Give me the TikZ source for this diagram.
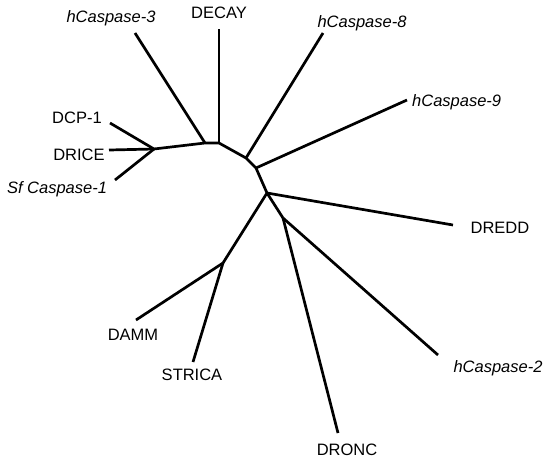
\documentclass[tikz,border=0pt]{standalone}
\usepackage{fontspec}
\setmainfont{Liberation Sans}
\begin{document}
\begin{tikzpicture}[x=1pt,y=-1pt,
  branch/.style={line width=2.7pt,line join=round},
  lab/.style={font=\fontsize{16.5}{18}\selectfont,inner sep=0pt},
  ilab/.style={lab,font=\fontsize{16.5}{18}\selectfont\itshape}]
\useasboundingbox (0,0) rectangle (550,459);
% internal nodes
\coordinate (nA) at (154,149);
\coordinate (nB1) at (205,143);
\coordinate (nB2) at (219,143);
\coordinate (nE) at (246,158);
\coordinate (nF) at (256,168);
\coordinate (nC) at (267,193);
\coordinate (nG) at (223,263);
\coordinate (nD) at (283,218);
% leaf tips
\coordinate (tDCP) at (110,123);
\coordinate (tDRICE) at (109,150);
\coordinate (tSf) at (115,180);
\coordinate (tC3) at (135,33);
\coordinate (tDECAY) at (219,29);
\coordinate (tC8) at (323,33);
\coordinate (tC9) at (407,100);
\coordinate (tDREDD) at (453,225);
\coordinate (tDAMM) at (136,320);
\coordinate (tSTRICA) at (193,362);
\coordinate (tC2) at (438,355);
\coordinate (tDRONC) at (338,433);
% labels
\node[lab] (lDCP) at (77,118) {DCP-1};
\node[lab] (lDRICE) at (79,155) {DRICE};
\node[ilab] (lSf) at (57,189) {Sf Caspase-1};
\node[ilab] (lC3) at (111,18) {hCaspase-3};
\node[lab] (lDECAY) at (219,13) {DECAY};
\node[ilab] (lC8) at (362,23) {hCaspase-8};
\node[ilab,anchor=west] (lC9) at (412,102) {hCaspase-9};
\node[lab] (lDREDD) at (500,228) {DREDD};
\node[ilab] (lC2) at (498,368) {hCaspase-2};
\node[lab] (lDRONC) at (347,450) {DRONC};
\node[lab] (lSTRICA) at (192,375) {STRICA};
\node[lab] (lDAMM) at (133,335) {DAMM};
% branches
\draw[branch] (tDCP) -- (nA);
\draw[branch] (tDRICE) -- (nA);
\draw[branch] (tSf) -- (nA);
\draw[branch] (nA) -- (nB1) -- (nB2) -- (nE) -- (nF) -- (nC);
\draw[branch] (nB1) -- (tC3);
\draw[branch] (nB2) -- (tDECAY);
\draw[branch] (nE) -- (tC8);
\draw[branch] (nF) -- (tC9);
\draw[branch] (nC) -- (tDREDD);
\draw[branch] (nC) -- (nG);
\draw[branch] (nG) -- (tDAMM);
\draw[branch] (nG) -- (tSTRICA);
\draw[branch] (nC) -- (nD);
\draw[branch] (nD) -- (tC2);
\draw[branch] (nD) -- (tDRONC);
\end{tikzpicture}
\end{document}
